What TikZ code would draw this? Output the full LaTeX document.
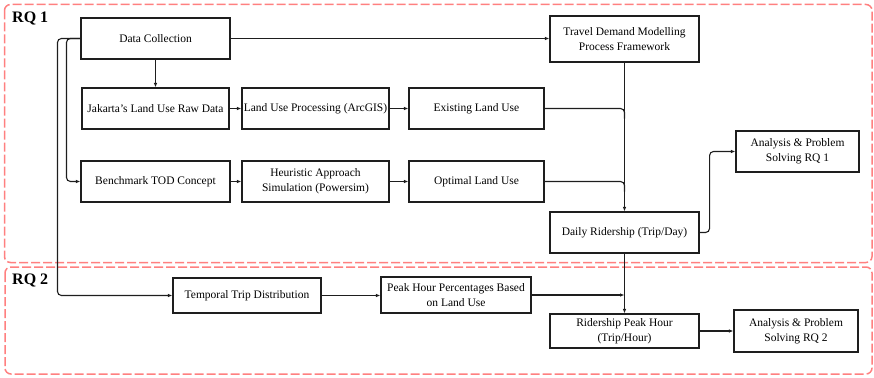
\documentclass[tikz,border=0pt]{standalone}
\usepackage{fontspec}
\setmainfont{Liberation Serif}
\usetikzlibrary{arrows.meta,calc}
\definecolor{rqred}{HTML}{FF8080}
\definecolor{lnc}{HTML}{1E1E1E}
\begin{document}
\begin{tikzpicture}[x=1pt,y=-1pt,
 box/.style={draw=lnc,line width=1.1pt,inner sep=0pt,align=center,font=\fontsize{11.5}{15}\selectfont},
 line/.style={draw=lnc,line width=1.1pt},
 conn/.style={line,-{Latex[length=4.5pt,width=3.5pt]}},
 region/.style={draw=rqred,line width=1.5pt,dash pattern=on 9pt off 3pt,rounded corners=6pt},
 rqlabel/.style={anchor=west,inner sep=0pt,font=\bfseries\fontsize{16}{18}\selectfont}]
\useasboundingbox (0,0) rectangle (874,377);
\draw[region] (4.5,4.5) rectangle (872,262.5);
\draw[region] (5,267) rectangle (872,374);
\node[rqlabel] (rq1) at (12,19) {RQ 1};
\node[rqlabel] (rq2) at (12,280) {RQ 2};

\node[box,minimum width=149pt,minimum height=41pt] (dc) at (155.5,38.5) {Data Collection};
\node[box,minimum width=147pt,minimum height=41pt] (jak) at (155.5,108.5) {Jakarta's Land Use Raw Data};
\node[box,minimum width=147pt,minimum height=41pt] (arc) at (315.5,108.5) {Land Use Processing (ArcGIS)};
\node[box,minimum width=135pt,minimum height=41pt] (ex) at (476.5,108.5) {Existing Land Use};
\node[box,minimum width=149pt,minimum height=41pt] (bench) at (155.5,181.5) {Benchmark TOD Concept};
\node[box,minimum width=147pt,minimum height=41pt] (heu) at (315.5,181.5) {Heuristic Approach\\Simulation (Powersim)};
\node[box,minimum width=135pt,minimum height=41pt] (opt) at (476.5,181.5) {Optimal Land Use};
\node[box,minimum width=149pt,minimum height=46pt] (tdm) at (624.5,39) {Travel Demand Modelling\\Process Framework};
\node[box,minimum width=123pt,minimum height=41pt] (an1) at (797.5,151.5) {Analysis \& Problem\\Solving RQ 1};
\node[box,minimum width=149pt,minimum height=41pt] (daily) at (624.5,232.5) {Daily Ridership (Trip/Day)};
\node[box,minimum width=148pt,minimum height=35pt] (temp) at (247,295.5) {Temporal Trip Distribution};
\node[box,minimum width=150pt,minimum height=36pt] (peak) at (456,295) {Peak Hour Percentages Based\\on Land Use};
\node[box,minimum width=149pt,minimum height=34pt] (rph) at (624.5,331) {Ridership Peak Hour\\(Trip/Hour)};
\node[box,minimum width=124pt,minimum height=42pt] (an2) at (796,331) {Analysis \& Problem\\Solving RQ 2};

\draw[conn,rounded corners=4pt] (dc.west) -- ++(-14,0) |- (bench.west);
\draw[conn,rounded corners=4pt] (dc.west) -- ++(-23,0) |- (temp.west);
\draw[conn] (dc.south) -- (jak.north);
\draw[conn] (jak) -- (arc);
\draw[conn] (arc) -- (ex);
\draw[conn] (bench) -- (heu);
\draw[conn] (heu) -- (opt);
\draw[conn] (dc.east) -- (dc.east -| tdm.west);
\draw[conn] (tdm.south) -- (daily.north);
\draw[line,rounded corners=4pt] (ex.east) -| ($(ex.east -| tdm.south)+(0,10)$);
\draw[line,rounded corners=4pt] (opt.east) -| ($(opt.east -| tdm.south)+(0,10)$);
\draw[conn,rounded corners=4pt] (daily.east) -- ++(10,0) |- (an1.west);
\draw[conn] (daily.south) -- (rph.north);
\draw[conn] (temp.east) -- (temp.east -| peak.west);
\draw[conn] (peak.east) -- (peak.east -| daily.south);
\draw[conn] (rph) -- (an2);
\end{tikzpicture}
\end{document}
